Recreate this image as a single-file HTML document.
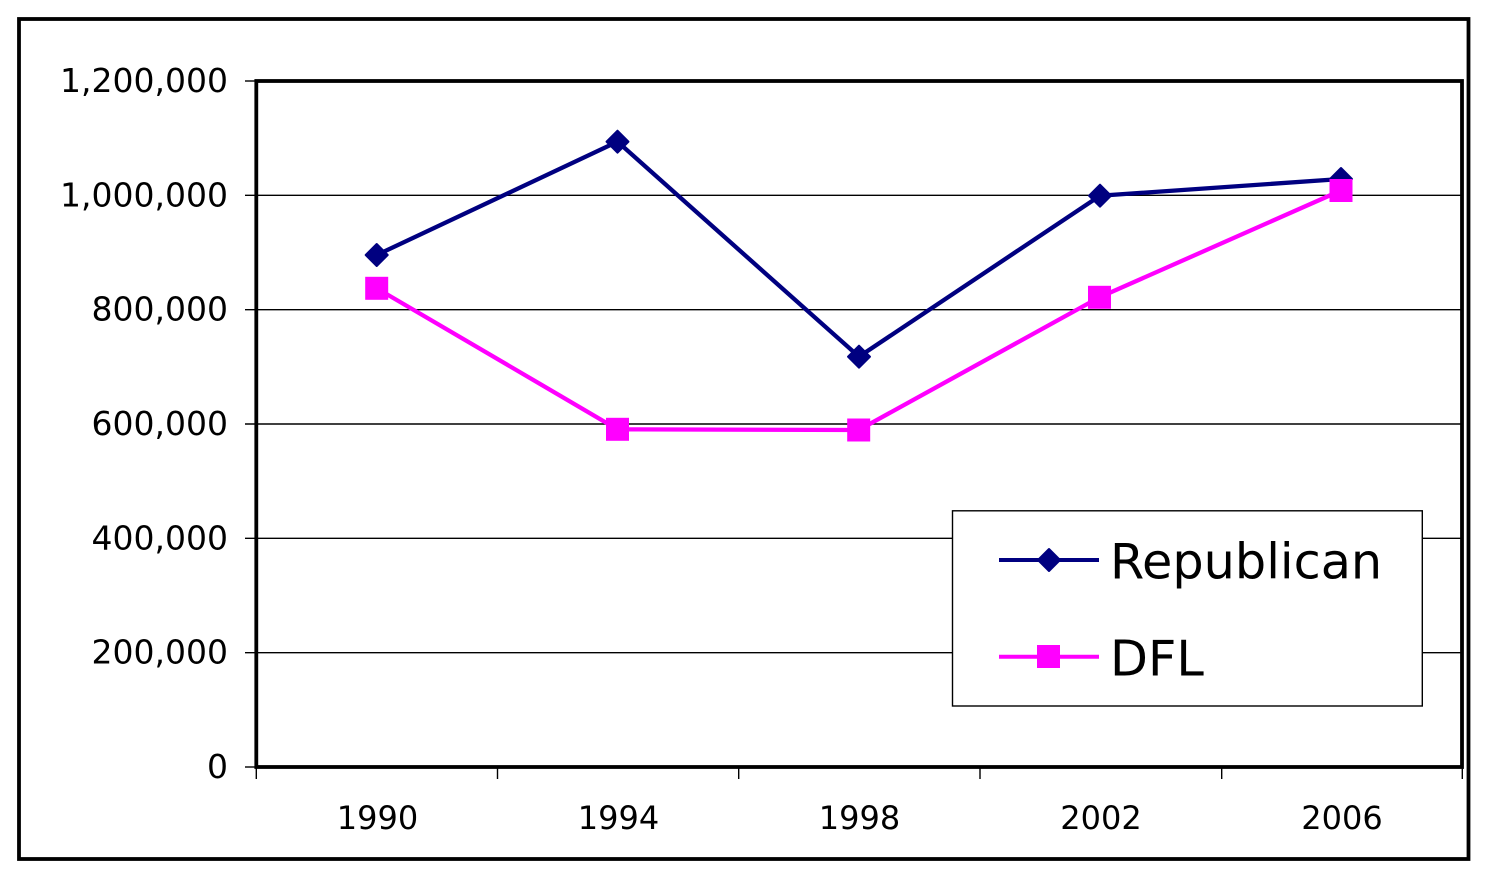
<!DOCTYPE html>
<html>
<head>
<meta charset="utf-8">
<style>
  html, body { margin: 0; padding: 0; background: #ffffff; }
  svg { display: block; }
  text { font-family: "DejaVu Sans", "Liberation Sans", sans-serif; fill: #000; }
</style>
</head>
<body>
<svg width="1489" height="878" viewBox="0 0 1489 878" xmlns="http://www.w3.org/2000/svg">
  <rect x="0" y="0" width="1489" height="878" fill="#ffffff"/>
  <!-- outer chart border -->
  <rect x="19" y="19" width="1449.5" height="840" fill="none" stroke="#000" stroke-width="3.8"/>

  <!-- gridlines -->
  <g stroke="#000" stroke-width="1.4">
    <line x1="245" y1="652.7" x2="1462" y2="652.7"/>
    <line x1="245" y1="538.3" x2="1462" y2="538.3"/>
    <line x1="245" y1="424" x2="1462" y2="424"/>
    <line x1="245" y1="309.7" x2="1462" y2="309.7"/>
    <line x1="245" y1="195.3" x2="1462" y2="195.3"/>
    <line x1="245" y1="81" x2="256" y2="81"/>
    <line x1="245" y1="767" x2="256" y2="767"/>
  </g>
  <!-- x ticks -->
  <g stroke="#000" stroke-width="1.4">
    <line x1="256.3" y1="767" x2="256.3" y2="779"/>
    <line x1="497.5" y1="767" x2="497.5" y2="779"/>
    <line x1="738.7" y1="767" x2="738.7" y2="779"/>
    <line x1="980" y1="767" x2="980" y2="779"/>
    <line x1="1221.7" y1="767" x2="1221.7" y2="779"/>
    <line x1="1462.3" y1="767" x2="1462.3" y2="779"/>
  </g>
  <!-- plot area border / axes -->
  <rect x="256.3" y="81" width="1205.7" height="686" fill="none" stroke="#000" stroke-width="3.8"/>

  <!-- y labels -->
  <g font-size="33" text-anchor="end">
    <text x="228" y="92">1,200,000</text>
    <text x="228" y="206.3">1,000,000</text>
    <text x="228" y="320.7">800,000</text>
    <text x="228" y="435">600,000</text>
    <text x="228" y="549.3">400,000</text>
    <text x="228" y="663.7">200,000</text>
    <text x="228" y="778">0</text>
  </g>
  <!-- x labels -->
  <g font-size="32" text-anchor="middle">
    <text x="377.5" y="829">1990</text>
    <text x="618.5" y="829">1994</text>
    <text x="859.5" y="829">1998</text>
    <text x="1101" y="829">2002</text>
    <text x="1342" y="829">2006</text>
  </g>

  <!-- Republican series -->
  <polyline points="376.7,255 617.5,141.7 859,356.7 1100,195.7 1341,179" fill="none" stroke="#000080" stroke-width="4.3" stroke-linejoin="miter"/>
  <g fill="#000080" stroke="#000080" stroke-width="2" stroke-linejoin="round">
    <polygon points="376.7,244 387.7,255 376.7,266 365.7,255"/>
    <polygon points="617.5,130.7 628.5,141.7 617.5,152.7 606.5,141.7"/>
    <polygon points="859,345.7 870,356.7 859,367.7 848,356.7"/>
    <polygon points="1100,184.7 1111,195.7 1100,206.7 1089,195.7"/>
    <polygon points="1341,168 1352,179 1341,190 1330,179"/>
  </g>

  <!-- DFL series -->
  <polyline points="376.7,288.3 617.5,429.3 858.7,430 1099.5,297.3 1341,190.5" fill="none" stroke="#FF00FF" stroke-width="4.3" stroke-linejoin="miter"/>
  <g fill="#FF00FF">
    <rect x="365.2" y="276.8" width="23" height="23"/>
    <rect x="606" y="417.8" width="23" height="23"/>
    <rect x="847.2" y="418.5" width="23" height="23"/>
    <rect x="1088" y="285.8" width="23" height="23"/>
    <rect x="1329.5" y="179" width="23" height="23"/>
  </g>

  <!-- legend -->
  <rect x="952.5" y="510.8" width="469.8" height="195.2" fill="#ffffff" stroke="#000" stroke-width="1.4"/>
  <line x1="999" y1="560" x2="1099" y2="560" stroke="#000080" stroke-width="4"/>
  <polygon points="1049,549 1060,560 1049,571 1038,560" fill="#000080" stroke="#000080" stroke-width="2" stroke-linejoin="round"/>
  <line x1="999" y1="656.7" x2="1099" y2="656.7" stroke="#FF00FF" stroke-width="4"/>
  <rect x="1037" y="645" width="23" height="23" fill="#FF00FF"/>
  <text x="1110" y="578.3" font-size="49.3">Republican</text>
  <text x="1110" y="675.7" font-size="49.3">DFL</text>
</svg>
</body>
</html>
